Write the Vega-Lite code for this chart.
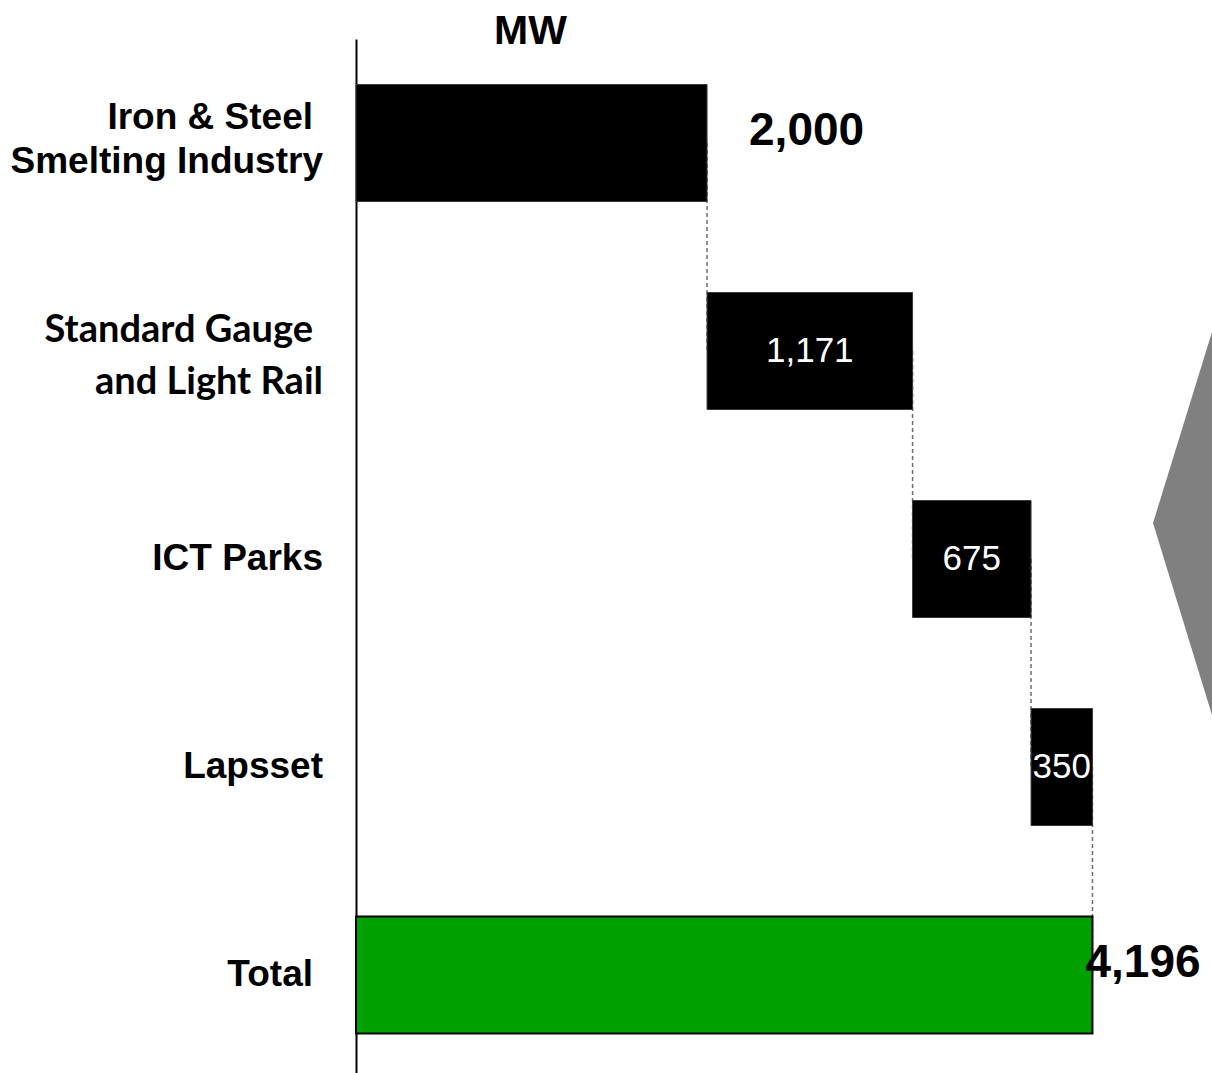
{
  "$schema": "https://vega.github.io/schema/vega-lite/v6.json",
  "width": 856,
  "height": 1040,
  "autosize": {"type": "none"},
  "padding": {"left": 356, "top": 39, "right": 0, "bottom": 0},
  "background": "white",
  "config": {"view": {"stroke": null}, "font": "Liberation Sans"},
  "title": {
    "text": "MW",
    "frame": "group",
    "anchor": "start",
    "dx": 138,
    "dy": 40,
    "offset": -6,
    "baseline": "alphabetic",
    "font": "Liberation Sans",
    "fontSize": 41,
    "fontWeight": "bold",
    "color": "#000000"
  },
  "datasets": {
    "steps": [
      {"cat": "Iron & Steel Smelting Industry", "line1": "Iron & Steel", "line2": "Smelting Industry", "kind": "step", "start": 0, "end": 2000, "value": 2000},
      {"cat": "Standard Gauge and Light Rail", "line1": "Standard Gauge", "line2": "and Light Rail", "kind": "step", "start": 2000, "end": 3171, "value": 1171},
      {"cat": "ICT Parks", "line1": "ICT Parks", "line2": "", "kind": "step", "start": 3171, "end": 3846, "value": 675},
      {"cat": "Lapsset", "line1": "Lapsset", "line2": "", "kind": "step", "start": 3846, "end": 4196, "value": 350},
      {"cat": "Total", "line1": "Total", "line2": "", "kind": "total", "start": 0, "end": 4196, "value": 4196}
    ],
    "connectors": [
      {"from": "Iron & Steel Smelting Industry", "to": "Standard Gauge and Light Rail", "at": 2000},
      {"from": "Standard Gauge and Light Rail", "to": "ICT Parks", "at": 3171},
      {"from": "ICT Parks", "to": "Lapsset", "at": 3846},
      {"from": "Lapsset", "to": "Total", "at": 4196}
    ],
    "chevron": [
      {"row": 1.409, "left": 4877, "right": 6000},
      {"row": 2.327, "left": 4541, "right": 6000},
      {"row": 3.25, "left": 4877, "right": 6000}
    ]
  },
  "resolve": {"scale": {"y": "independent"}},
  "layer": [
    {
      "data": {"name": "chevron"},
      "mark": {"type": "area", "orient": "horizontal", "color": "#808080", "clip": true},
      "encoding": {
        "y": {"field": "row", "type": "quantitative", "scale": {"domain": [0, 5], "reverse": true, "nice": false, "zero": false}, "axis": null},
        "x": {"field": "left", "type": "quantitative", "scale": {"domain": [0, 4877], "nice": false}, "axis": null},
        "x2": {"field": "right"}
      }
    },
    {
      "encoding": {
        "y": {
          "field": "cat",
          "type": "nominal",
          "scale": {
            "domain": ["Iron & Steel Smelting Industry", "Standard Gauge and Light Rail", "ICT Parks", "Lapsset", "Total"],
            "paddingInner": 0.4375,
            "paddingOuter": 0.21875
          },
          "axis": {"labels": false, "ticks": false, "title": null, "grid": false, "domainColor": "#000000", "domainWidth": 2}
        }
      },
      "layer": [
        {
          "data": {"name": "connectors"},
          "mark": {"type": "rule", "color": "#6e6e6e", "strokeWidth": 1.5, "strokeDash": [4, 3]},
          "encoding": {
            "y": {"field": "from", "type": "nominal"},
            "y2": {"field": "to"},
            "x": {"field": "at", "type": "quantitative", "scale": {"domain": [0, 4877], "nice": false}, "axis": null}
          }
        },
        {
          "data": {"name": "steps"},
          "transform": [{"filter": "datum.kind == 'step'"}],
          "mark": {"type": "bar", "color": "#000000", "stroke": "#3a3a3a", "strokeWidth": 1},
          "encoding": {
            "x": {"field": "start", "type": "quantitative", "scale": {"domain": [0, 4877], "nice": false}, "axis": null},
            "x2": {"field": "end"}
          }
        },
        {
          "data": {"name": "steps"},
          "transform": [{"filter": "datum.kind == 'total'"}],
          "mark": {"type": "bar", "color": "#00A000", "stroke": "#000000", "strokeWidth": 2},
          "encoding": {
            "x": {"field": "start", "type": "quantitative"},
            "x2": {"field": "end"}
          }
        },
        {
          "data": {"name": "steps"},
          "transform": [{"filter": "datum.cat == 'ICT Parks' || datum.cat == 'Lapsset'"}],
          "mark": {"type": "text", "align": "right", "baseline": "middle", "dx": -33, "font": "Liberation Sans", "fontSize": 37, "fontWeight": "bold", "color": "#000000"},
          "encoding": {
            "x": {"datum": 0, "type": "quantitative"},
            "text": {"field": "line1"}
          }
        },
        {
          "data": {"name": "steps"},
          "transform": [{"filter": "datum.cat == 'Total'"}],
          "mark": {"type": "text", "align": "right", "baseline": "middle", "dx": -43, "font": "Liberation Sans", "fontSize": 37, "fontWeight": "bold", "color": "#000000"},
          "encoding": {
            "x": {"datum": 0, "type": "quantitative"},
            "text": {"field": "line1"}
          }
        },
        {
          "data": {"name": "steps"},
          "transform": [{"filter": "datum.cat == 'Iron & Steel Smelting Industry'"}],
          "mark": {"type": "text", "align": "right", "baseline": "middle", "dx": -43, "dy": -25, "font": "Liberation Sans", "fontSize": 37, "fontWeight": "bold", "color": "#000000"},
          "encoding": {
            "x": {"datum": 0, "type": "quantitative"},
            "text": {"field": "line1"}
          }
        },
        {
          "data": {"name": "steps"},
          "transform": [{"filter": "datum.cat == 'Iron & Steel Smelting Industry'"}],
          "mark": {"type": "text", "align": "right", "baseline": "middle", "dx": -33, "dy": 19, "font": "Liberation Sans", "fontSize": 37, "fontWeight": "bold", "color": "#000000"},
          "encoding": {
            "x": {"datum": 0, "type": "quantitative"},
            "text": {"field": "line2"}
          }
        },
        {
          "data": {"name": "steps"},
          "transform": [{"filter": "datum.cat == 'Standard Gauge and Light Rail'"}],
          "mark": {"type": "text", "align": "right", "baseline": "middle", "dx": -43, "dy": -20, "font": "Lato", "fontSize": 38, "fontWeight": "bold", "color": "#000000"},
          "encoding": {
            "x": {"datum": 0, "type": "quantitative"},
            "text": {"field": "line1"}
          }
        },
        {
          "data": {"name": "steps"},
          "transform": [{"filter": "datum.cat == 'Standard Gauge and Light Rail'"}],
          "mark": {"type": "text", "align": "right", "baseline": "middle", "dx": -33, "dy": 32, "font": "Lato", "fontSize": 38, "fontWeight": "bold", "color": "#000000"},
          "encoding": {
            "x": {"datum": 0, "type": "quantitative"},
            "text": {"field": "line2"}
          }
        },
        {
          "data": {"name": "steps"},
          "transform": [
            {"filter": "datum.kind == 'step' && datum.start > 0"},
            {"calculate": "(datum.start + datum.end) / 2", "as": "mid"}
          ],
          "mark": {"type": "text", "align": "center", "baseline": "middle", "font": "Liberation Sans", "fontSize": 35, "color": "#ffffff"},
          "encoding": {
            "x": {"field": "mid", "type": "quantitative"},
            "text": {"field": "value", "type": "quantitative", "format": ","}
          }
        },
        {
          "data": {"name": "steps"},
          "transform": [{"filter": "datum.kind == 'step' && datum.start == 0"}],
          "mark": {"type": "text", "align": "left", "baseline": "middle", "dx": 42, "dy": -12, "font": "Liberation Sans", "fontSize": 46, "fontWeight": "bold", "color": "#000000"},
          "encoding": {
            "x": {"field": "end", "type": "quantitative"},
            "text": {"field": "value", "type": "quantitative", "format": ","}
          }
        },
        {
          "data": {"name": "steps"},
          "transform": [{"filter": "datum.kind == 'total'"}],
          "mark": {"type": "text", "align": "left", "baseline": "middle", "dx": -7, "dy": -12, "font": "Liberation Sans", "fontSize": 46, "fontWeight": "bold", "color": "#000000"},
          "encoding": {
            "x": {"field": "end", "type": "quantitative"},
            "text": {"field": "value", "type": "quantitative", "format": ","}
          }
        }
      ]
    }
  ]
}
